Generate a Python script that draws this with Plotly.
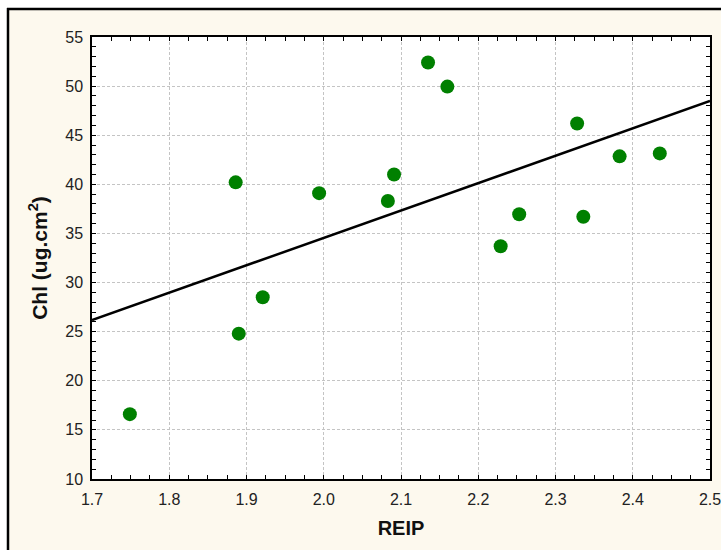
import numpy as np
import plotly.graph_objects as go

# REIP vs chlorophyll samples
reip = [1.749, 1.886, 1.890, 1.921, 1.994, 2.083, 2.091, 2.135, 2.160,
        2.229, 2.253, 2.328, 2.336, 2.383, 2.435]
chl = [16.6, 40.2, 24.8, 28.5, 39.1, 38.3, 41.0, 52.4, 49.95,
       33.7, 36.95, 46.2, 36.7, 42.85, 43.15]

x_range = [1.7, 2.5]
y_range = [10, 55]
x_ticks = [1.7, 1.8, 1.9, 2.0, 2.1, 2.2, 2.3, 2.4, 2.5]
x_tick_text = ["1.7", "1.8", "1.9", "2.0", "2.1", "2.2", "2.3", "2.4", "2.5"]
y_ticks = [10, 15, 20, 25, 30, 35, 40, 45, 50, 55]

# least-squares linear fit across the full axis span
slope, intercept = np.polyfit(reip, chl, 1)
fit_x = np.array(x_range)
fit_y = slope * fit_x + intercept

W, H = 721, 550
ML, MR, MT, MB = 92, 11, 37, 71
pw, ph = W - ML - MR, H - MT - MB


def px_to_paper_x(px):
    return (px - ML) / pw


def px_to_paper_y(py):
    return 1 - (py - MT) / ph


font_family = "Liberation Sans, Arial, sans-serif"
cream = "#fdf9ee"

fig = go.Figure()
fig.add_trace(go.Scatter(
    x=fit_x, y=fit_y, mode="lines",
    line=dict(color="black", width=2.5),
    hoverinfo="skip", showlegend=False, cliponaxis=True,
))
fig.add_trace(go.Scatter(
    x=reip, y=chl, mode="markers",
    marker=dict(color="#008000", size=14, line=dict(width=0)),
    showlegend=False,
))

axis_common = dict(
    showline=True, linecolor="black", linewidth=1.5, mirror="allticks",
    ticks="inside", ticklen=4, tickcolor="black", tickwidth=1,
    showgrid=True, gridcolor="#c4c4c4", gridwidth=1, griddash="3px,2px",
    zeroline=False, ticklabeloverflow="allow",
    tickfont=dict(family=font_family, size=16, color="#222"),
)

fig.update_xaxes(
    range=x_range, tickvals=x_ticks, ticktext=x_tick_text,
    minor=dict(dtick=0.025, ticks="inside", ticklen=4, tickcolor="black", showgrid=False),
    title=dict(text="<b>REIP</b>", font=dict(family=font_family, size=20, color="#111"), standoff=14),
    ticklabelstandoff=5,
    **axis_common,
)
fig.update_yaxes(
    range=y_range, tickvals=y_ticks,
    minor=dict(dtick=1, ticks="inside", ticklen=4, tickcolor="black", showgrid=False),
    title=dict(text="<b>Chl (ug.cm<sup>2</sup>)</b>", font=dict(family=font_family, size=21, color="#111"), standoff=12),
    ticklabelstandoff=4,
    **axis_common,
)

# white margin outside the framed panel, plus the frame's top and left edges
shapes = [
    dict(type="rect", xref="paper", yref="paper",
         x0=px_to_paper_x(-5), x1=px_to_paper_x(W + 5),
         y0=px_to_paper_y(8), y1=px_to_paper_y(-5),
         fillcolor="white", line=dict(width=0), layer="below"),
    dict(type="rect", xref="paper", yref="paper",
         x0=px_to_paper_x(-5), x1=px_to_paper_x(8),
         y0=px_to_paper_y(H + 5), y1=px_to_paper_y(-5),
         fillcolor="white", line=dict(width=0), layer="below"),
    dict(type="line", xref="paper", yref="paper",
         x0=px_to_paper_x(7), x1=px_to_paper_x(W + 5),
         y0=px_to_paper_y(9), y1=px_to_paper_y(9),
         line=dict(color="black", width=2.5)),
    dict(type="line", xref="paper", yref="paper",
         x0=px_to_paper_x(8), x1=px_to_paper_x(8),
         y0=px_to_paper_y(8), y1=px_to_paper_y(H + 5),
         line=dict(color="black", width=2.5)),
]

fig.update_layout(
    width=W, height=H,
    margin=dict(l=ML, r=MR, t=MT, b=MB, autoexpand=False),
    paper_bgcolor=cream, plot_bgcolor="white",
    shapes=shapes,
    showlegend=False,
)

fig.write_html("out.html")
